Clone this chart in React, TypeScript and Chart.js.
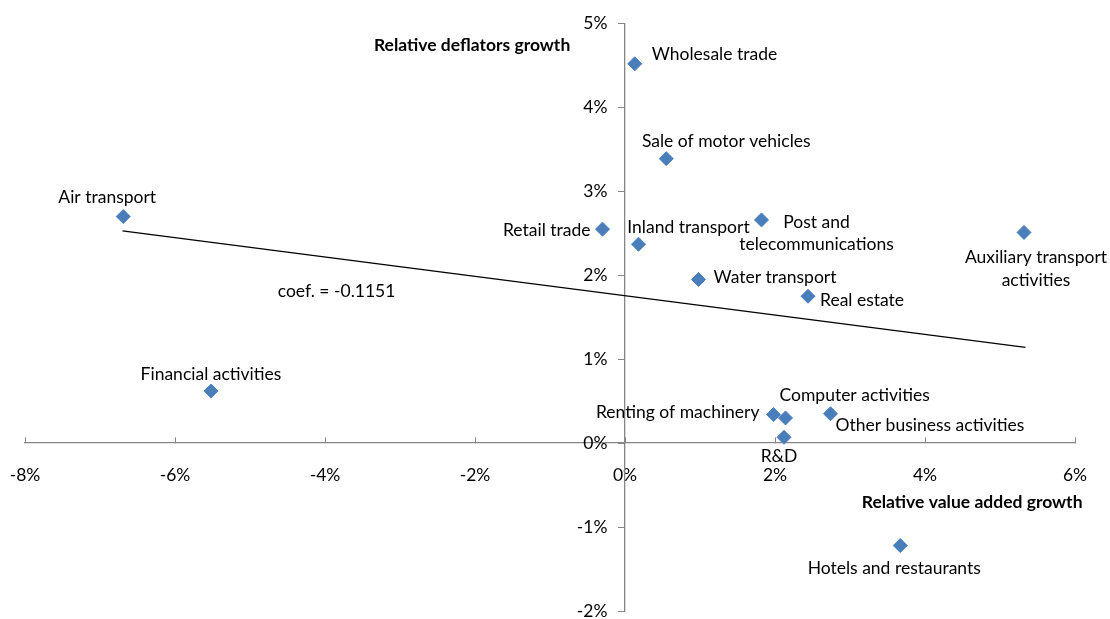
import { useEffect, useRef } from 'react';
import { Chart, registerables } from 'chart.js';

Chart.register(...registerables);

// sectors, relative value added growth (x, %) and relative deflators growth (y, %)
const sectors = [
  'Wholesale trade',
  'Sale of motor vehicles',
  'Air transport',
  'Retail trade',
  'Inland transport',
  'Post and\ntelecommunications',
  'Auxiliary transport\nactivities',
  'Water transport',
  'Real estate',
  'Financial activities',
  'Renting of machinery',
  'Computer activities',
  'Other business activities',
  'R&D',
  'Hotels and restaurants',
];
const valueAddedGrowth = [0.13, 0.55, -6.69, -0.30, 0.18, 1.82, 5.32, 0.98, 2.44, -5.52, 1.98, 2.14, 2.74, 2.12, 3.67];
const deflatorsGrowth = [4.52, 3.39, 2.70, 2.55, 2.37, 2.66, 2.51, 1.95, 1.75, 0.62, 0.34, 0.30, 0.35, 0.07, -1.22];

// fitted trend line, end points
const trendX = [-6.70, 5.34];
const trendY = [2.53, 1.14];
const trendLabel = 'coef. = -0.1151';

const xTickValues = [-8, -6, -4, -2, 0, 2, 4, 6];
const yTickValues = [-2, -1, 0, 1, 2, 3, 4, 5];

// where each label sits relative to its marker (px)
const labelPlacement: { align: CanvasTextAlign; dx: number; dy: number }[] = [
  { align: 'left', dx: 17, dy: -9 },
  { align: 'center', dx: 60, dy: -17 },
  { align: 'center', dx: -16, dy: -19 },
  { align: 'right', dx: -12, dy: 1 },
  { align: 'center', dx: 50, dy: -17 },
  { align: 'center', dx: 55, dy: 2 },
  { align: 'center', dx: 12, dy: 25 },
  { align: 'left', dx: 15, dy: -2 },
  { align: 'left', dx: 12, dy: 4 },
  { align: 'center', dx: 0, dy: -17 },
  { align: 'right', dx: -14, dy: -2 },
  { align: 'left', dx: -6, dy: -23 },
  { align: 'left', dx: 5, dy: 12 },
  { align: 'center', dx: -5, dy: 19 },
  { align: 'center', dx: -6, dy: 23 },
];

const FONT = 'Lato, "Noto Sans", sans-serif';
const FONT_SIZE = 17.5;
const LINE_HEIGHT = 22.6;

const textPlugin = {
  id: 'pointText',
  afterDatasetsDraw(chart: Chart) {
    const { ctx, scales } = chart;
    const meta = chart.getDatasetMeta(0);
    ctx.save();
    ctx.fillStyle = '#000';
    ctx.textBaseline = 'middle';
    ctx.font = `${FONT_SIZE}px ${FONT}`;
    meta.data.forEach((pt, i) => {
      const p = labelPlacement[i];
      ctx.textAlign = p.align;
      sectors[i].split('\n').forEach((line, j) => {
        ctx.fillText(line, pt.x + p.dx, pt.y + p.dy + j * LINE_HEIGHT);
      });
    });

    const x = scales.x;
    const y = scales.y;
    ctx.textAlign = 'left';
    ctx.fillText(trendLabel, x.getPixelForValue(-4.63), y.getPixelForValue(1.81));

    ctx.font = `bold ${FONT_SIZE}px ${FONT}`;
    ctx.textAlign = 'right';
    ctx.fillText('Relative deflators growth', x.getPixelForValue(-0.73), y.getPixelForValue(4.74));
    ctx.fillText('Relative value added growth', x.getPixelForValue(6.1), y.getPixelForValue(-0.70));
    ctx.restore();
  },
};

export default function App() {
  const canvasRef = useRef<HTMLCanvasElement>(null);

  useEffect(() => {
    document.body.style.margin = '0';
    if (!canvasRef.current) return;

    const chart = new Chart(canvasRef.current, {
      type: 'scatter',
      data: {
        datasets: [
          {
            label: 'Sectors',
            data: valueAddedGrowth.map((v, i) => ({ x: v, y: deflatorsGrowth[i] })),
            pointStyle: 'rectRot',
            pointRadius: 7,
            pointBackgroundColor: '#4A7EBB',
            pointBorderColor: '#4A7EBB',
            pointBorderWidth: 1,
          },
          {
            label: 'Trend',
            type: 'line',
            data: trendX.map((v, i) => ({ x: v, y: trendY[i] })),
            borderColor: '#000',
            borderWidth: 1.3,
            pointRadius: 0,
            showLine: true,
          },
        ],
      },
      options: {
        responsive: true,
        maintainAspectRatio: false,
        animation: false,
        layout: { padding: { left: 25, right: 35, top: 23.5, bottom: 7.5 } },
        plugins: {
          legend: { display: false },
          tooltip: { enabled: false },
        },
        scales: {
          x: {
            type: 'linear',
            position: { y: 0 },
            min: -8,
            max: 6,
            afterBuildTicks: (scale) => {
              scale.ticks = xTickValues.map((v) => ({ value: v }));
            },
            ticks: {
              callback: (v) => `${v}%`,
              color: '#000',
              // tall line box pushes the labels below the axis without adding side padding
              font: { family: FONT, size: FONT_SIZE, lineHeight: 4.4 },
              padding: 0,
              maxRotation: 0,
            },
            grid: { drawOnChartArea: false, tickLength: -6, tickColor: '#868686' },
            border: { color: '#868686', width: 1.3 },
          },
          y: {
            type: 'linear',
            position: { x: 0 },
            min: -2,
            max: 5,
            afterBuildTicks: (scale) => {
              scale.ticks = yTickValues.map((v) => ({ value: v }));
            },
            ticks: {
              callback: (v) => `${v}%\u2002\u2002`,
              color: '#000',
              font: { family: FONT, size: FONT_SIZE, lineHeight: 0.85 },
              padding: 0,
            },
            grid: { drawOnChartArea: false, tickLength: 6, tickColor: '#868686' },
            border: { color: '#868686', width: 1.3 },
          },
        },
      },
      plugins: [textPlugin],
    });

    return () => {
      chart.destroy();
    };
  }, []);

  return (
    <div style={{ width: '1110px', height: '619px', position: 'relative' }}>
      <canvas ref={canvasRef}></canvas>
    </div>
  );
}
